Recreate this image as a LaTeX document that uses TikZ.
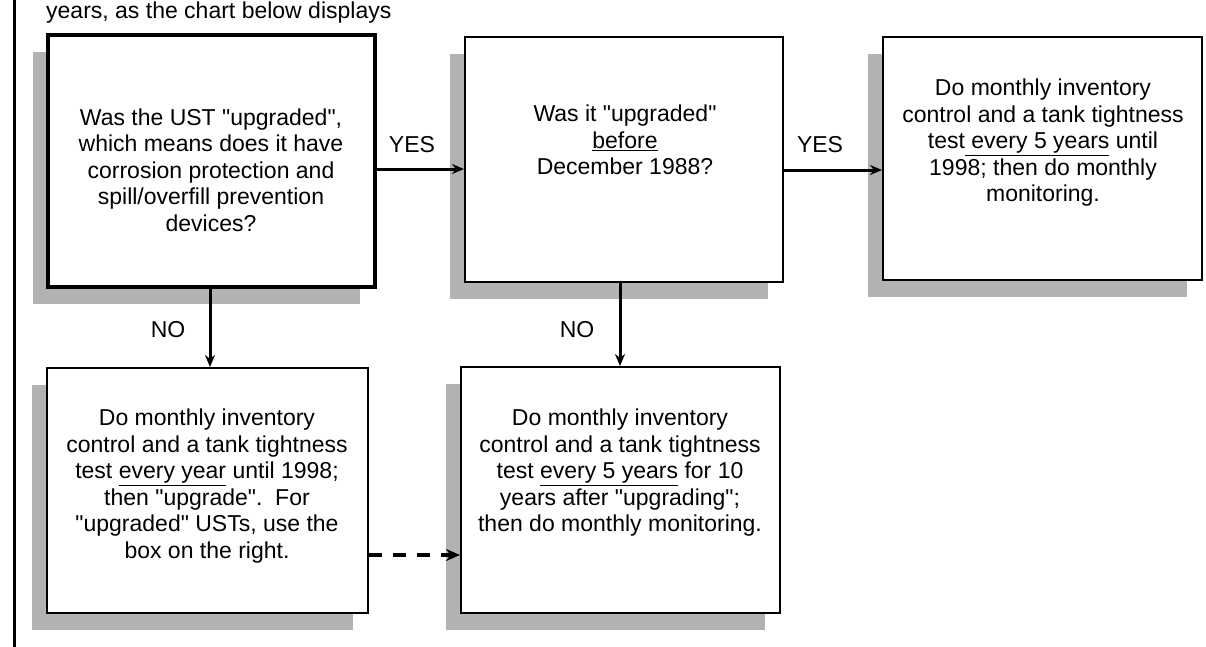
\documentclass[tikz,border=0pt]{standalone}
\usepackage{fontspec}
\setmainfont{Liberation Sans}
\newfontfamily\chartfont{Liberation Sans}
\usetikzlibrary{arrows.meta,shadows}
\tikzset{
  box/.style={draw=black, line width=2pt, fill=white, inner sep=0pt,
    drop shadow={shadow xshift=-15pt, shadow yshift=-17pt, fill=black!30, opacity=1}},
  thickbox/.style={box, line width=4.5pt},
  txt/.style={align=center, font=\chartfont\fontsize{23}{26.5}\selectfont, inner sep=0pt},
  lbl/.style={font=\chartfont\fontsize{23}{26}\selectfont, inner sep=0pt},
  arr/.style={line width=3pt, -{Stealth[length=12pt,width=10pt]}},
  dasharr/.style={line width=4pt, dash pattern=on 13pt off 11pt, -{Stealth[length=14pt,width=12pt]}},
  frameline/.style={line width=3pt},
}
\begin{document}
\begin{tikzpicture}[x=1pt,y=-1pt]
\useasboundingbox (0,0) rectangle (1206,646);
\fill[white] (0,0) rectangle (1206,646);
\clip (0,0) rectangle (1206,646);

% left margin rule and heading line
\draw[frameline] (14,-5) -- (14,651);
\node[lbl, anchor=base west] (hdr) at (46,18) {years, as the chart below displays};

% boxes
\node[thickbox, minimum width=327pt, minimum height=252pt] (q1) at (211.5,161) {};
\node[box, minimum width=318pt, minimum height=245pt] (q2) at (624,159.5) {};
\node[box, minimum width=319pt, minimum height=243pt] (q3) at (1042.5,158.5) {};
\node[box, minimum width=321pt, minimum height=245pt] (q4) at (207.5,490.5) {};
\node[box, minimum width=319pt, minimum height=246pt] (q5) at (620.5,490) {};

% texts
\node[txt] (t1) at (211,170) {Was the UST "upgraded",\\which means does it have\\corrosion protection and\\spill/overfill prevention\\devices?};
\node[txt] (t2) at (625,140) {Was it "upgraded"\\\underline{before}\\December 1988?};
\node[txt] (t3) at (1043,143) {Do monthly inventory\\control and a tank tightness\\test\underline{ every 5 years} until\\1998; then do monthly\\monitoring.};
\node[txt] (t4) at (207,486) {Do monthly inventory\\control and a tank tightness\\test \underline{every year} until 1998;\\then "upgrade".\ \ For\\"upgraded" USTs, use the\\box on the right.};
\node[txt] (t5) at (620,473) {Do monthly inventory\\control and a tank tightness\\test \underline{every 5 years} for 10\\years after "upgrading";\\then do monthly monitoring.};

% connectors
\draw[arr] ([yshift=-8pt]q1.east) -- ([yshift=-9.5pt]q2.west);
\draw[arr] ([yshift=-10.5pt]q2.east) -- ([yshift=-11.5pt]q3.west);
\draw[arr] ([xshift=-1.5pt]q1.south) -- ([xshift=2.5pt]q4.north);
\draw[arr] ([xshift=-4pt]q2.south) -- ([xshift=-0.5pt]q5.north);
\draw[dasharr] ([yshift=-64.5pt]q4.east) -- ([yshift=-65pt]q5.west);

% labels
\node[lbl] (yes1) at (412,145) {YES};
\node[lbl] (yes2) at (820,145) {YES};
\node[lbl] (no1) at (168,330) {NO};
\node[lbl] (no2) at (577,330) {NO};
\end{tikzpicture}
\end{document}
